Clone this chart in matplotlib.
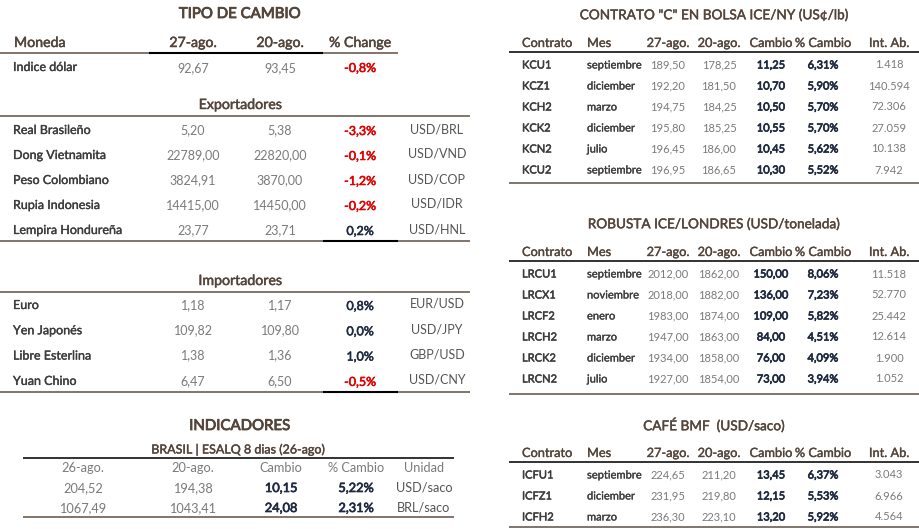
import matplotlib
matplotlib.use("Agg")
import matplotlib.pyplot as plt
import matplotlib.patheffects as pe

# ---------------- datos ----------------
fecha_a = "27-ago."
fecha_b = "20-ago."

indice_nombre = "Indice dólar"
indice_a = 92.67
indice_b = 93.45
indice_pct = -0.8

exp_nombres = ["Real Brasileño", "Dong Vietnamita", "Peso Colombiano",
               "Rupia Indonesia", "Lempira Hondureña"]
exp_a = [5.20, 22789.00, 3824.91, 14415.00, 23.77]
exp_b = [5.38, 22820.00, 3870.00, 14450.00, 23.71]
exp_pct = [-3.3, -0.1, -1.2, -0.2, 0.2]
exp_unidad = ["USD/BRL", "USD/VND", "USD/COP", "USD/IDR", "USD/HNL"]

imp_nombres = ["Euro", "Yen Japonés", "Libre Esterlina", "Yuan Chino"]
imp_a = [1.18, 109.82, 1.38, 6.47]
imp_b = [1.17, 109.80, 1.36, 6.50]
imp_pct = [0.8, 0.0, 1.0, -0.5]
imp_unidad = ["EUR/USD", "USD/JPY", "GBP/USD", "USD/CNY"]

ind_header = ["26-ago.", "20-ago.", "Cambio", "% Cambio", "Unidad"]
ind_a = [204.52, 1067.49]
ind_b = [194.38, 1043.41]
ind_cambio = [10.15, 24.08]
ind_pct = [5.22, 2.31]
ind_unidad = ["USD/saco", "BRL/saco"]

kc_codigos = ["KCU1", "KCZ1", "KCH2", "KCK2", "KCN2", "KCU2"]
kc_meses = ["septiembre", "diciember", "marzo", "diciember", "julio", "septiembre"]
kc_a = [189.50, 192.20, 194.75, 195.80, 196.45, 196.95]
kc_b = [178.25, 181.50, 184.25, 185.25, 186.00, 186.65]
kc_cambio = [11.25, 10.70, 10.50, 10.55, 10.45, 10.30]
kc_pct = [6.31, 5.90, 5.70, 5.70, 5.62, 5.52]
kc_intab = [1418, 140594, 72306, 27059, 10138, 7942]

lr_codigos = ["LRCU1", "LRCX1", "LRCF2", "LRCH2", "LRCK2", "LRCN2"]
lr_meses = ["septiembre", "noviembre", "enero", "marzo", "diciember", "julio"]
lr_a = [2012.00, 2018.00, 1983.00, 1947.00, 1934.00, 1927.00]
lr_b = [1862.00, 1882.00, 1874.00, 1863.00, 1858.00, 1854.00]
lr_cambio = [150.00, 136.00, 109.00, 84.00, 76.00, 73.00]
lr_pct = [8.06, 7.23, 5.82, 4.51, 4.09, 3.94]
lr_intab = [11518, 52770, 25442, 12614, 1900, 1052]

icf_codigos = ["ICFU1", "ICFZ1", "ICFH2"]
icf_meses = ["septiembre", "diciember", "marzo"]
icf_a = [224.65, 231.95, 236.30]
icf_b = [211.20, 219.80, 223.10]
icf_cambio = [13.45, 12.15, 13.20]
icf_pct = [6.37, 5.53, 5.92]
icf_intab = [3043, 6966, 4564]

# ---------------- estilos ----------------
plt.rcParams['font.family'] = ['Lato', 'DejaVu Sans']
C_TIT = "#54453b"
C_LIN = "#6b5c52"
C_NOM = "#3c3c3c"
C_VAL = "#7a7a7a"
C_UNI = "#555555"
C_AZ = "#1f2a40"
C_ROJO = "#e00000"


def num(v, d=2):
    return f"{v:.{d}f}".replace(".", ",")


def miles(v):
    return f"{v:,}".replace(",", ".")


def pct(v, d=1):
    return num(v, d) + "%"


fig = plt.figure(figsize=(9.2, 5.29), dpi=100)
ax = fig.add_axes([0, 0, 1, 1])
ax.set_xlim(0, 920)
ax.set_ylim(529, 0)
ax.axis("off")


def txt(x, y, s, ha="center", size=9.0, color=C_VAL, grueso=0):
    t = ax.text(x, y, s, ha=ha, va="center", fontsize=size, color=color)
    if grueso:
        # engrosar un poco el trazo (peso "medium")
        t.set_path_effects([pe.withStroke(linewidth=grueso, foreground=color)])


def linea(x0, x1, y, color=C_LIN, lw=1.2):
    ax.plot([x0, x1], [y, y], color=color, lw=lw, solid_capstyle="butt")


# ---------------- panel izquierdo: tipo de cambio ----------------
cols_l = [193, 280, 360, 437]
txt(240, 14, "TIPO DE CAMBIO", size=10.8, color=C_TIT, grueso=0.6)
txt(14, 43, "Moneda", ha="left", size=10.2, color=C_TIT, grueso=0.35)
txt(cols_l[0], 43, fecha_a, size=10.2, color=C_TIT, grueso=0.35)
txt(cols_l[1], 43, fecha_b, size=10.2, color=C_TIT, grueso=0.35)
txt(cols_l[2], 43, "% Change", size=10.2, color=C_TIT, grueso=0.35)
linea(0, 398, 53)
linea(149, 323, 53, color="black", lw=1.5)

txt(13, 67, indice_nombre, ha="left", color=C_NOM, grueso=0.25)
txt(cols_l[0], 68, num(indice_a))
txt(cols_l[1], 68, num(indice_b))
txt(cols_l[2], 68, pct(indice_pct), color=C_ROJO if indice_pct < 0 else C_AZ,
    grueso=0.4)


def bloque(y_tit, titulo, nombres, a, b, p, unidad, y0, dy):
    txt(240, y_tit, titulo, size=10.2, color=C_TIT, grueso=0.35)
    linea(0, 470, y_tit + 11)
    for i, n in enumerate(nombres):
        y = y0 + i * dy
        txt(13, y, n, ha="left", color=C_NOM, grueso=0.25)
        txt(cols_l[0], y, num(a[i]))
        txt(cols_l[1], y, num(b[i]))
        txt(cols_l[2], y + 1, pct(p[i]), color=C_ROJO if p[i] < 0 else C_AZ,
            grueso=0.4)
        txt(cols_l[3], y - 1, unidad[i], color=C_UNI)
    y_fin = y0 + (len(nombres) - 1) * dy + 11
    linea(0, 470, y_fin)
    linea(323, 398, y_fin, color="black", lw=1.5)


bloque(105, "Exportadores", exp_nombres, exp_a, exp_b, exp_pct, exp_unidad, 130, 25)
bloque(281, "Importadores", imp_nombres, imp_a, imp_b, imp_pct, imp_unidad, 305, 25.3)

# ---------------- indicadores ----------------
cols_i = [83, 193, 281, 356, 424]
txt(240, 426, "INDICADORES", size=10.8, color=C_TIT, grueso=0.6)
txt(238, 449, "BRASIL | ESALQ 8 dias (26-ago)", size=9.0, color=C_TIT,
    grueso=0.3)
linea(23, 454, 457.5, color="#222222", lw=1.3)
for x, h in zip(cols_i, ind_header):
    txt(x, 468, h, size=9.2, color=C_VAL)
for i in range(len(ind_a)):
    y = 488 + i * 20
    txt(cols_i[0], y, num(ind_a[i]), size=9.2)
    txt(cols_i[1], y, num(ind_b[i]), size=9.2)
    txt(cols_i[2], y, num(ind_cambio[i]), size=9.2, color=C_AZ, grueso=0.5)
    txt(cols_i[3], y, pct(ind_pct[i], 2), size=9.2, color=C_AZ, grueso=0.5)
    txt(cols_i[4], y, ind_unidad[i], size=9.2, color=C_UNI)
linea(23, 454, 517)

# ---------------- paneles derechos: contratos ----------------
cols_r = [522, 587, 668, 719, 771, 823, 889]
hdr_r = ["Contrato", "Mes", fecha_a, fecha_b, "Cambio", "% Cambio", "Int. Ab."]


def contrato(y_tit, titulo, codigos, meses, a, b, cambio, p, intab, y_fin):
    txt(714, y_tit, titulo, size=9.8, color=C_TIT, grueso=0.3)
    y_h = y_tit + 28
    for j, h in enumerate(hdr_r):
        txt(cols_r[j], y_h, h, ha="left" if j < 2 else "center", size=9.2,
            color=C_TIT, grueso=0.25)
    linea(509, 920, y_h + 9, color="#222222", lw=1.3)
    for i in range(len(codigos)):
        y = y_h + 22 + i * 21
        txt(cols_r[0], y, codigos[i], ha="left", size=8.0, color=C_NOM,
            grueso=0.35)
        txt(cols_r[1], y, meses[i], ha="left", size=8.0, color=C_NOM,
            grueso=0.2)
        txt(cols_r[2], y, num(a[i]), size=8.0)
        txt(cols_r[3], y, num(b[i]), size=8.0)
        txt(cols_r[4], y, num(cambio[i]), size=8.0, color=C_AZ, grueso=0.5)
        txt(cols_r[5], y, pct(p[i], 2), size=8.0, color=C_AZ, grueso=0.5)
        txt(cols_r[6], y, miles(intab[i]), size=8.0)
    linea(509, 920, y_fin)


contrato(15, 'CONTRATO "C" EN BOLSA ICE/NY (US¢/lb)', kc_codigos, kc_meses,
         kc_a, kc_b, kc_cambio, kc_pct, kc_intab, 183)
contrato(224, "ROBUSTA ICE/LONDRES (USD/tonelada)", lr_codigos, lr_meses,
         lr_a, lr_b, lr_cambio, lr_pct, lr_intab, 394)
contrato(425, "CAFÉ BMF  (USD/saco)", icf_codigos, icf_meses,
         icf_a, icf_b, icf_cambio, icf_pct, icf_intab, 527)

fig.savefig("out.png", dpi=100)
